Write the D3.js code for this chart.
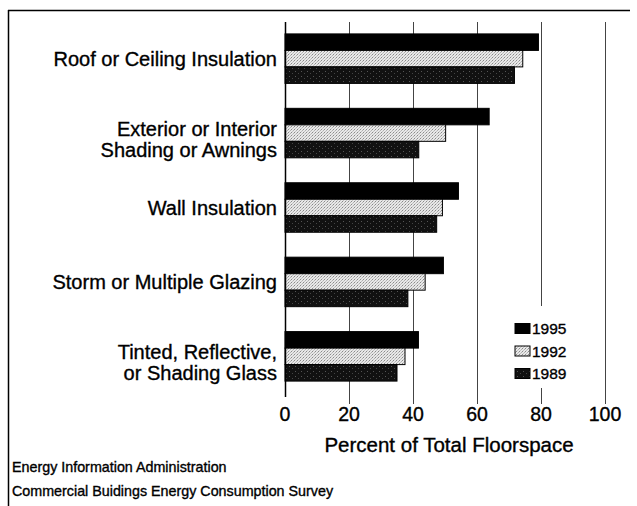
<!DOCTYPE html>
<html><head><meta charset="utf-8">
<script src="https://cdn.jsdelivr.net/npm/d3@7"></script>
<style>
html,body{margin:0;padding:0;background:#fff;}
svg{display:block;font-family:"Liberation Sans",Arial,sans-serif;}
text{stroke:#000;stroke-width:0.35px;}
</style></head>
<body><svg id="c" width="637" height="506"></svg>
<script>
const categories = [
  ["Roof or Ceiling Insulation"],
  ["Exterior or Interior", "Shading or Awnings"],
  ["Wall Insulation"],
  ["Storm or Multiple Glazing"],
  ["Tinted, Reflective,", "or Shading Glass"]
];
const seriesNames = ["1995", "1992", "1989"];
const values1995 = [79.2, 63.8, 54.2, 49.5, 41.7];
const values1992 = [74.3, 50.2, 49.2, 43.8, 37.5];
const values1989 = [71.7, 41.8, 47.4, 38.4, 35.0];
const tickValues = [0, 20, 40, 60, 80, 100];
const axisTitle = "Percent of Total Floorspace";
const footer = ["Energy Information Administration", "Commercial Buidings Energy Consumption Survey"];

const series = [values1995, values1992, values1989];
const svg = d3.select("#c");
const defs = svg.append("defs");

// patterns
const p92 = defs.append("pattern").attr("id","p92").attr("width",3).attr("height",3).attr("patternUnits","userSpaceOnUse");
p92.append("rect").attr("width",3).attr("height",3).attr("fill","#e8e8e8");
p92.append("rect").attr("x",0).attr("y",0).attr("width",1).attr("height",1).attr("fill","#8a8a8a");
p92.append("rect").attr("x",2).attr("y",1).attr("width",1).attr("height",1).attr("fill","#b0b0b0");
p92.append("rect").attr("x",1).attr("y",2).attr("width",1).attr("height",1).attr("fill","#c0c0c0");
const p89 = defs.append("pattern").attr("id","p89").attr("width",6).attr("height",5).attr("patternUnits","userSpaceOnUse");
p89.append("rect").attr("width",6).attr("height",5).attr("fill","#111");
p89.append("rect").attr("x",1).attr("y",1).attr("width",1).attr("height",1).attr("fill","#555");
p89.append("rect").attr("x",4).attr("y",3).attr("width",1).attr("height",1).attr("fill","#444");
const fills = ["#000", "url(#p92)", "url(#p89)"];

const x = d3.scaleLinear().domain([0,100]).range([285,605]);
const y0 = d3.scaleBand().domain(d3.range(categories.length)).range([22,393]).paddingInner(0.335).paddingOuter(0.16);
const y1 = d3.scaleBand().domain(d3.range(seriesNames.length)).range([0,y0.bandwidth()]);

// frame
svg.append("line").attr("x1",8).attr("x2",630).attr("y1",10.5).attr("y2",10.5).attr("stroke","#000").attr("stroke-width",1.5);
svg.append("line").attr("x1",8.5).attr("x2",8.5).attr("y1",10).attr("y2",506).attr("stroke","#000").attr("stroke-width",1.5);

// gridlines
svg.append("g").selectAll("line").data(tickValues.filter(d=>d>0)).join("line")
  .attr("x1",d=>Math.round(x(d))+0.5).attr("x2",d=>Math.round(x(d))+0.5)
  .attr("y1",22).attr("y2",404).attr("stroke","#444").attr("stroke-width",1);

// bars
categories.forEach((c,i)=>{
  series.forEach((s,j)=>{
    svg.append("rect")
      .attr("x",x(0)).attr("y",y0(i)+y1(j))
      .attr("width",x(s[i])-x(0)).attr("height",y1.bandwidth())
      .attr("fill",fills[j]).attr("stroke","#000").attr("stroke-width",1);
  });
});

// axis line
svg.append("line").attr("x1",285.5).attr("x2",285.5).attr("y1",22).attr("y2",397).attr("stroke","#000").attr("stroke-width",1.5);

// tick labels
svg.append("g").selectAll("text").data(tickValues).join("text")
  .attr("x",d=>x(d)).attr("y",421).attr("text-anchor","middle")
  .attr("font-size",19.5).attr("fill","#000").text(d=>d);

svg.append("text").attr("x",449).attr("y",452).attr("text-anchor","middle")
  .attr("font-size",20.5).attr("fill","#000").text(axisTitle);

// category labels
categories.forEach((lines,i)=>{
  const cy = y0(i)+y0.bandwidth()/2;
  const t = svg.append("text").attr("text-anchor","end").attr("font-size",20).attr("fill","#000");
  if(lines.length===1){
    t.append("tspan").attr("x",277).attr("y",cy+7.5).text(lines[0]);
  } else {
    t.append("tspan").attr("x",277).attr("y",cy+3).text(lines[0]);
    t.append("tspan").attr("x",277).attr("y",cy+24).text(lines[1]);
  }
});

// legend
const lg = svg.append("g");
lg.append("rect").attr("x",506).attr("y",306).attr("width",72).attr("height",82).attr("fill","#fff");
seriesNames.forEach((n,j)=>{
  const by = 334 + j*22.5;
  lg.append("rect").attr("x",515).attr("y",by-10.5).attr("width",15).attr("height",10)
    .attr("fill",fills[j]).attr("stroke","#000").attr("stroke-width",1);
  lg.append("text").attr("x",532).attr("y",by).attr("font-size",15.5).attr("fill","#000").text(n);
});

// footer
footer.forEach((f,i)=>{
  svg.append("text").attr("x",12).attr("y",472+i*24).attr("font-size",14.3).attr("fill","#000").text(f);
});
</script></body></html>
